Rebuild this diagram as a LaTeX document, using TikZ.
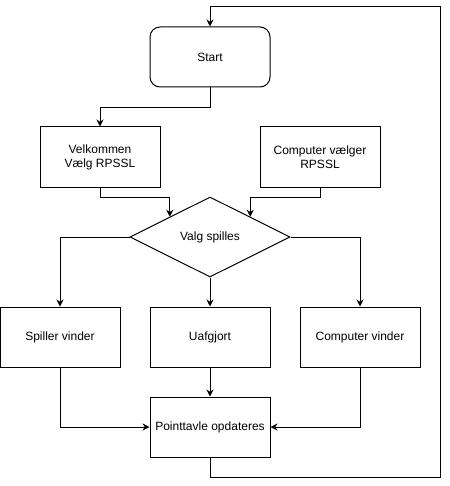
\documentclass[tikz,border=0pt]{standalone}
\usepackage{fontspec}
\setmainfont{Liberation Sans}
\usepackage{tikz}
\usetikzlibrary{arrows.meta,positioning,shapes.geometric}

\begin{document}
\begin{tikzpicture}[
  x=1pt,y=-1pt,
  font=\fontsize{12}{14}\selectfont,
  line width=1pt,
  >={Stealth[length=7pt,width=7pt]},
  proc/.style={draw,minimum width=120pt,minimum height=60pt,
    inner sep=2pt,align=center},
  terminal/.style={proc,rounded corners=10pt},
  choice/.style={draw,diamond,aspect=2,minimum width=160pt,
    minimum height=80pt,inner sep=0pt,align=center},
  arrow/.style={->}
]
  \useasboundingbox (0,0) rectangle (449,486);

  \node[terminal] (start) at (210,57) {Start};

  \node[proc] (velkommen) at (100,157) {Velkommen\\Vælg RPSSL};
  \node[proc] (compvalg) at (320,157) {Computer vælger\\RPSSL};

  \node[choice] (valg) at (210,237) {Valg spilles};

  \node[proc] (spiller) at (60,337) {Spiller vinder};
  \node[proc] (uafgjort) at (210,337) {Uafgjort};
  \node[proc] (compvinder) at (360,337) {Computer vinder};

  \node[proc] (point) at (210,427) {Pointtavle opdateres};

  \coordinate (loop) at (440,7);

  \draw[arrow] (start.south) -- ++(0,20) -| (velkommen.north);
  \draw[arrow] (velkommen.south) -- ++(0,10) -| (valg.north west);
  \draw[arrow] (compvalg.south) -- ++(0,10) -| (valg.north east);

  \draw[arrow] (valg.west) -| (spiller.north);
  \draw[arrow] (valg.south) -- (uafgjort.north);
  \draw[arrow] (valg.east) -| (compvinder.north);

  \draw[arrow] (spiller.south) |- (point.west);
  \draw[arrow] (uafgjort.south) -- (point.north);
  \draw[arrow] (compvinder.south) |- (point.east);

  \draw[arrow] (point.south) -- ++(0,20) -| (loop) -| (start.north);
\end{tikzpicture}
\end{document}
